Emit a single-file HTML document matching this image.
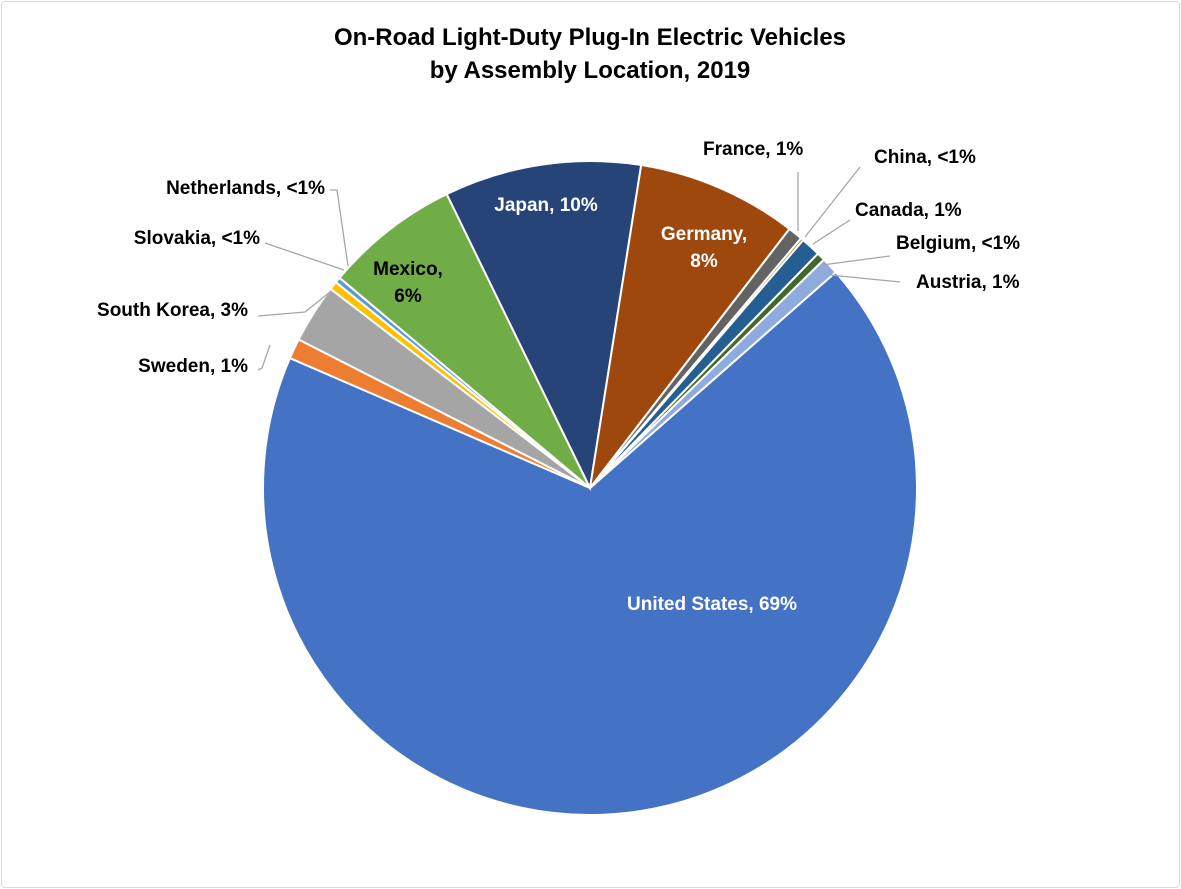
<!DOCTYPE html>
<html><head><style>
html,body{margin:0;padding:0;background:#fff;}
#w{position:relative;width:1181px;height:889px;overflow:hidden;}
#fr{position:absolute;left:1px;top:1px;width:1177px;height:885px;border:1px solid #d9d9d9;border-radius:4px;}
svg{position:absolute;left:0;top:0;}
text{font-family:"Liberation Sans",Arial,sans-serif;font-weight:bold;}
</style></head><body><div id="w"><div id="fr"></div>
<svg id="s" width="1181" height="889" viewBox="0 0 1181 889"></svg></div>
<script>
var cx=590,cy=488,r=327;
var sl=[[48.7,293.4,"#4472C4"],[293.4,297,"#ED7D31"],[297,307.5,"#A5A5A5"],[307.5,309,"#FFC000"],[309,310,"#5B9BD5"],[310,334,"#70AD47"],[334,369,"#264478"],[369,397.6,"#9E480E"],[397.6,400.2,"#636363"],[400.2,400.7,"#997300"],[400.7,404.2,"#255E91"],[404.2,405.7,"#43682B"],[405.7,408.7,"#8FAADC"]];
function p(a){a=a*Math.PI/180;return [cx+r*Math.sin(a),cy-r*Math.cos(a)];}
var h="";
sl.forEach(function(s){var a=p(s[0]),b=p(s[1]),l=(s[1]-s[0])>180?1:0;
h+='<path d="M'+cx+','+cy+'L'+a[0].toFixed(1)+','+a[1].toFixed(1)+'A'+r+','+r+' 0 '+l+' 1 '+b[0].toFixed(1)+','+b[1].toFixed(1)+'Z" fill="'+s[2]+'" stroke="#fff" stroke-width="2"/>';});
var L=[[798,231,798,172],[805,237,860,167],[813,244,850,220],[822,265,890,256],[830,275,900,282]];
var LL=[[348,266,330,185],[342,270,262,243],[330,292,305,312,258,316],[270,345,258,370]];
L.forEach(function(q){h+='<polyline points="'+q.join(',')+'" fill="none" stroke="#a6a6a6" stroke-width="1.3"/>';});
h+='<polyline points="348,266 337,190 330,190" fill="none" stroke="#a6a6a6" stroke-width="1.3"/>';
h+='<polyline points="344,270 265,243" fill="none" stroke="#a6a6a6" stroke-width="1.3"/>';
h+='<polyline points="330,292 305,312 258,316" fill="none" stroke="#a6a6a6" stroke-width="1.3"/>';
h+='<polyline points="270,345 262,368 258,370" fill="none" stroke="#a6a6a6" stroke-width="1.3"/>';
function t(x,y,s,a,c,fs){h+='<text x="'+x+'" y="'+y+'" text-anchor="'+(a||'start')+'" fill="'+(c||'#000')+'" font-size="'+(fs||19)+'">'+s+'</text>';}
t(590,45,"On-Road Light-Duty Plug-In Electric Vehicles","middle","#000",24);
t(590,78,"by Assembly Location, 2019","middle","#000",24);
t(703,155,"France, 1%");t(874,163,"China, &lt;1%");t(855,216,"Canada, 1%");t(896,249,"Belgium, &lt;1%");t(916,288,"Austria, 1%");
t(325,194,"Netherlands, &lt;1%","end");t(260,244,"Slovakia, &lt;1%","end");t(248,316,"South Korea, 3%","end");t(248,372,"Sweden, 1%","end");
t(408,275,"Mexico,","middle");t(408,302,"6%","middle");
t(546,211,"Japan, 10%","middle","#fff");
t(704,240,"Germany,","middle","#fff");t(704,267,"8%","middle","#fff");
t(712,610,"United States, 69%","middle","#fff");
document.getElementById("s").innerHTML=h;
</script></body></html>
